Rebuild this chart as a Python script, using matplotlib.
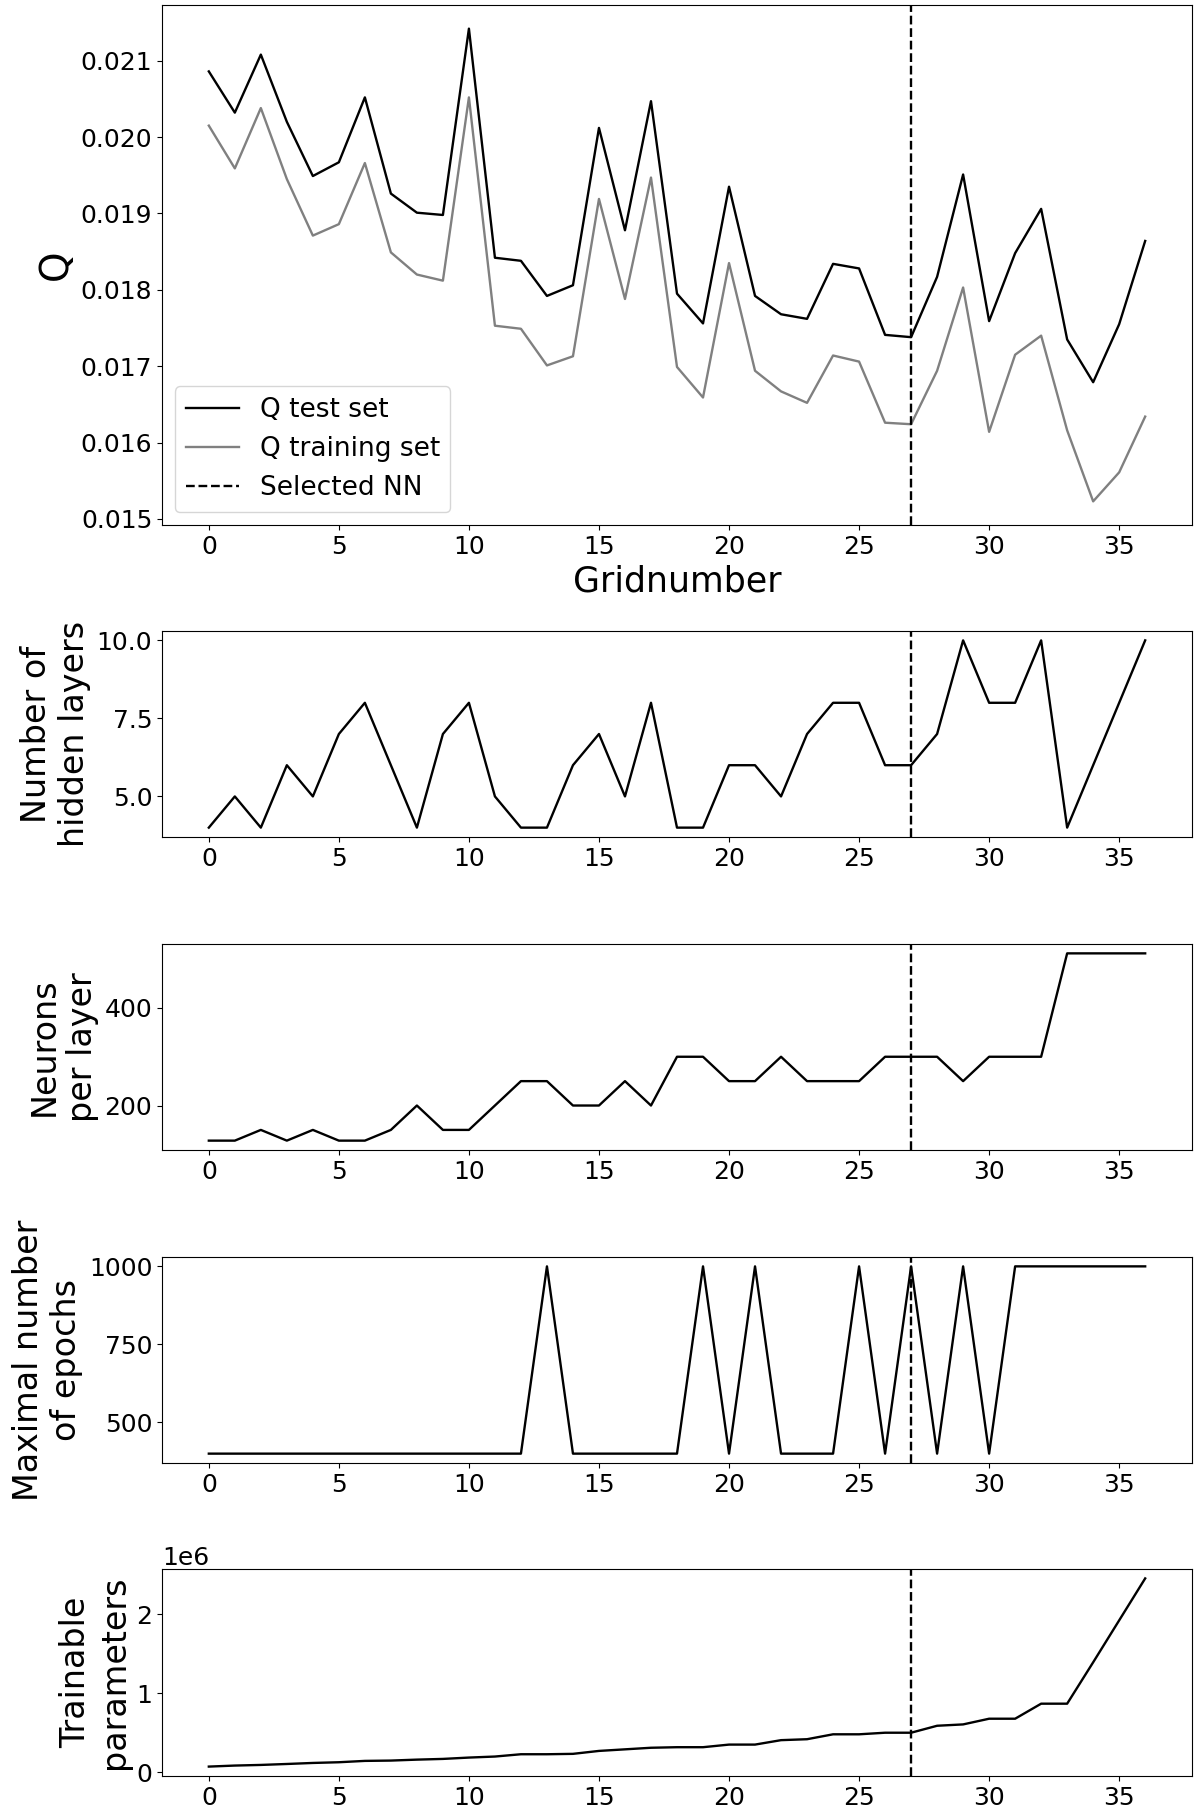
import numpy as np
import matplotlib
matplotlib.use('Agg')
import matplotlib.pyplot as plt

# Values, one per grid number 0..36.
grid = np.arange(37)

q_test = [0.02086, 0.02032, 0.02108, 0.02020, 0.01949, 0.01967, 0.02052, 0.01926,
          0.01901, 0.01898, 0.02142, 0.01842, 0.01838, 0.01792, 0.01806, 0.02012,
          0.01878, 0.02047, 0.01795, 0.01756, 0.01935, 0.01792, 0.01768, 0.01762,
          0.01834, 0.01828, 0.01741, 0.01738, 0.01817, 0.01951, 0.01759, 0.01848,
          0.01906, 0.01735, 0.01679, 0.01755, 0.01864]

q_train = [0.02015, 0.01959, 0.02038, 0.01945, 0.01871, 0.01886, 0.01966, 0.01849,
           0.01820, 0.01812, 0.02052, 0.01753, 0.01749, 0.01701, 0.01713, 0.01919,
           0.01788, 0.01947, 0.01699, 0.01659, 0.01835, 0.01694, 0.01667, 0.01652,
           0.01714, 0.01706, 0.01626, 0.01624, 0.01694, 0.01803, 0.01614, 0.01715,
           0.01740, 0.01616, 0.01523, 0.01561, 0.01634]

hidden_layers = [4, 5, 4, 6, 5, 7, 8, 6, 4, 7, 8, 5, 4, 4, 6, 7, 5, 8, 4, 4,
                 6, 6, 5, 7, 8, 8, 6, 6, 7, 10, 8, 8, 10, 4, 6, 8, 10]

neurons = [128, 128, 150, 128, 150, 128, 128, 150, 200, 150, 150, 200, 250, 250,
           200, 200, 250, 200, 300, 300, 250, 250, 300, 250, 250, 250, 300, 300,
           300, 250, 300, 300, 300, 512, 512, 512, 512]

epochs = [400] * 13 + [1000] + [400] * 5 + [1000, 400, 1000, 400, 400, 400,
          1000, 400, 1000, 400, 1000, 400] + [1000] * 6

params = [0.072e6, 0.085e6, 0.093e6, 0.105e6, 0.118e6, 0.127e6, 0.144e6, 0.148e6,
          0.160e6, 0.169e6, 0.186e6, 0.199e6, 0.228e6, 0.228e6, 0.233e6, 0.270e6,
          0.290e6, 0.310e6, 0.317e6, 0.317e6, 0.350e6, 0.350e6, 0.406e6, 0.418e6,
          0.480e6, 0.480e6, 0.500e6, 0.500e6, 0.588e6, 0.605e6, 0.677e6, 0.677e6,
          0.867e6, 0.867e6, 1.39e6, 1.92e6, 2.45e6]

selected = 27

W, H = 1200, 1813
fig = plt.figure(figsize=(W / 100, H / 100), dpi=100)

def box(top, bottom, left=162, right=1192):
    # pixel box -> figure fraction
    return [left / W, 1 - bottom / H, (right - left) / W, (bottom - top) / H]

lw = 1.7

ax0 = fig.add_axes(box(5, 525))
ax0.plot(grid, q_test, color='black', lw=lw, label='Q test set')
ax0.plot(grid, q_train, color='gray', lw=lw, label='Q training set')
ax0.axvline(selected, color='black', ls='--', lw=lw, label='Selected NN')
ax0.set_ylabel('Q', fontsize=28)
ax0.set_xlabel('Gridnumber', fontsize=25)
ax0.legend(loc='lower left', fontsize=19)

panels = [
    (box(631, 837), hidden_layers, 'Number of\nhidden layers', [5.0, 7.5, 10.0]),
    (box(944, 1150), neurons, 'Neurons\nper layer', [200, 400]),
    (box(1257, 1463), epochs, 'Maximal number\nof epochs', [500, 750, 1000]),
    (box(1569, 1776), params, 'Trainable\nparameters', [0, 1e6, 2e6]),
]

axes = [ax0]
for rect, y, label, yt in panels:
    ax = fig.add_axes(rect)
    ax.plot(grid, y, color='black', lw=lw)
    ax.axvline(selected, color='black', ls='--', lw=lw)
    ax.set_ylabel(label, fontsize=24)
    ax.set_yticks(yt)
    axes.append(ax)

for ax in axes:
    ax.set_xticks([0, 5, 10, 15, 20, 25, 30, 35])
    ax.tick_params(labelsize=18)
axes[-1].yaxis.get_offset_text().set_fontsize(18)

fig.savefig('out.png', dpi=100)
